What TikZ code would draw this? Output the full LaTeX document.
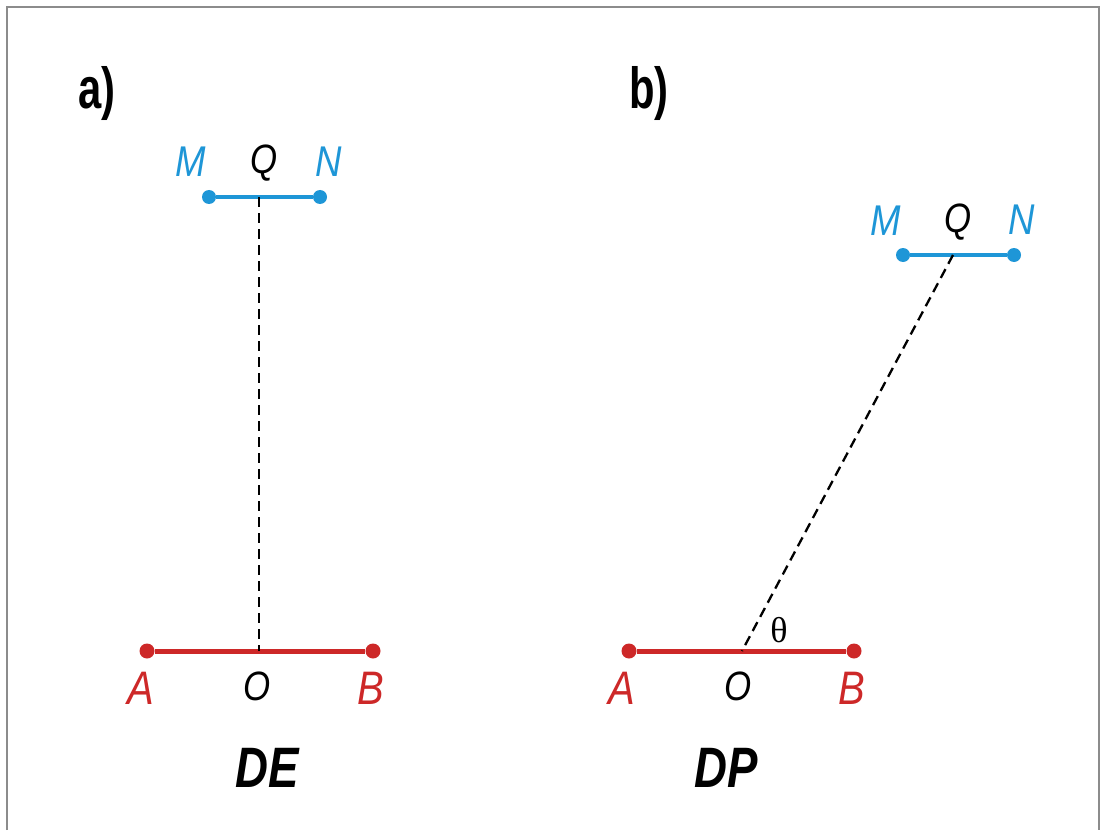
\documentclass[tikz,border=0pt]{standalone}
\usepackage{fontspec}
\setmainfont{Liberation Sans}
\newfontfamily\serifth{Liberation Serif}
\usepackage{graphicx}
\definecolor{segblue}{RGB}{30,150,215}
\definecolor{segred}{RGB}{205,40,40}
\begin{document}
\begin{tikzpicture}[x=1pt,y=-1pt,
  bluelbl/.style={text=segblue,font=\fontsize{43}{43}\selectfont\itshape,inner sep=0pt},
  redlbl/.style={text=segred,font=\fontsize{47}{47}\selectfont\itshape,inner sep=0pt},
  blklbl/.style={text=black,font=\fontsize{41}{41}\selectfont\itshape,inner sep=0pt},
  panel/.style={font=\fontsize{58}{58}\selectfont\bfseries,inner sep=0pt},
  title/.style={font=\fontsize{57}{57}\selectfont\bfseries\itshape,inner sep=0pt},
  bseg/.style={segblue,line width=3.5pt},
  rseg/.style={segred,line width=5pt},
  bdot/.style={circle,fill=segblue,inner sep=0pt,minimum size=14pt},
  rdot/.style={circle,fill=segred,inner sep=0pt,minimum size=15pt},
  dline/.style={black,line width=2.3pt,dash pattern=on 10pt off 6pt}]
\useasboundingbox (0,0) rectangle (1101,832);
\fill[white] (0,0) rectangle (1101,832);
\draw[black!45,line width=2pt] (7,830) -- (7,7) -- (1099,7) -- (1099,830);
% panel a
\node[panel] (pa) at (97,94) {\scalebox{0.72}[1]{a)}};
\node[bdot] (Ma) at (209,197) {};
\node[bdot] (Na) at (320,197) {};
\coordinate (Qa) at (259,197);
\draw[bseg] (Ma) -- (Na);
\node[rdot] (Aa) at (147,651) {};
\node[rdot] (Ba) at (373,651) {};
\coordinate (Oa) at (259,651);
\draw[rseg] (Aa) -- (Ba);
\draw[dline] (Qa) -- (Oa);
\node[bluelbl] (lMa) at (191,162) {\scalebox{0.85}[1]{M}};
\node[blklbl] (lQa) at (264,163) {\scalebox{0.85}[1]{Q}};
\node[bluelbl] (lNa) at (329,162) {\scalebox{0.85}[1]{N}};
\node[redlbl] (lAa) at (141,688) {\scalebox{0.85}[1]{A}};
\node[blklbl] (lOa) at (257,686) {\scalebox{0.85}[1]{O}};
\node[redlbl] (lBa) at (371,688) {\scalebox{0.85}[1]{B}};
\node[title] (DE) at (267,768) {\scalebox{0.8}[1]{DE}};
% panel b
\node[panel] (pb) at (649,94) {\scalebox{0.72}[1]{b)}};
\node[bdot] (Mb) at (903,255) {};
\node[bdot] (Nb) at (1014,255) {};
\coordinate (Qb) at (953,255);
\draw[bseg] (Mb) -- (Nb);
\node[rdot] (Ab) at (629,651) {};
\node[rdot] (Bb) at (854,651) {};
\coordinate (Ob) at (742,651);
\draw[rseg] (Ab) -- (Bb);
\draw[dline] (Qb) -- (Ob);
\node[bluelbl] (lMb) at (886,221) {\scalebox{0.85}[1]{M}};
\node[blklbl] (lQb) at (958,222) {\scalebox{0.85}[1]{Q}};
\node[bluelbl] (lNb) at (1022,220) {\scalebox{0.85}[1]{N}};
\node[redlbl] (lAb) at (622,688) {\scalebox{0.85}[1]{A}};
\node[blklbl] (lOb) at (738,686) {\scalebox{0.85}[1]{O}};
\node[redlbl] (lBb) at (852,688) {\scalebox{0.85}[1]{B}};
\node[inner sep=0pt,font=\fontsize{36}{36}\selectfont\serifth] (th) at (779,630) {θ};
\node[title] (DP) at (726,768) {\scalebox{0.8}[1]{DP}};
\end{tikzpicture}
\end{document}
